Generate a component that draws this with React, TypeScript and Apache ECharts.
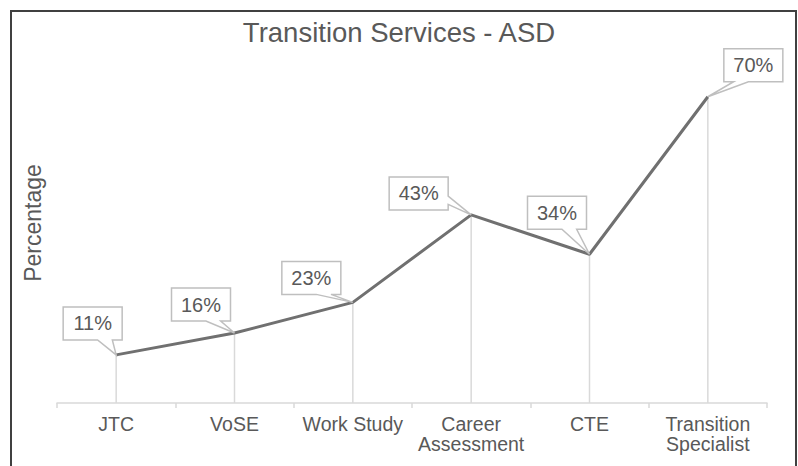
import React, { useEffect, useRef } from "react";
import * as echarts from "echarts";

const categories = ["JTC", "VoSE", "Work Study", "Career\nAssessment", "CTE", "Transition\nSpecialist"];
const values = [11, 16, 23, 43, 34, 70];
const titleText = "Transition Services - ASD";
const yAxisTitle = "Percentage";

// callout box placement (top-left corner relative to the data point), style only
const calloutOffsets: [number, number][] = [
  [-53, -48],
  [-63, -45],
  [-71, -41],
  [-82, -38],
  [-62, -58],
  [16, -48],
];

const FONT = '"Liberation Sans", Arial, sans-serif';
const TEXT = "#595959";
const BOX_W = 59;
const BOX_H = 33;

function calloutPoints(x0: number, y0: number, w: number, h: number, tip: number[]) {
  const cx = x0 + w / 2;
  const cy = y0 + h / 2;
  const dx = tip[0] - cx;
  const dy = tip[1] - cy;
  const dq = (dx * h) / w;
  const dz = Math.abs(dy) - Math.abs(dq);
  const xg1 = dx > 0 ? 7 : 2;
  const xg2 = dx > 0 ? 10 : 5;
  const yg1 = dy > 0 ? 7 : 2;
  const yg2 = dy > 0 ? 10 : 5;
  const x1 = x0 + (w * xg1) / 12;
  const x2 = x0 + (w * xg2) / 12;
  const y1 = y0 + (h * yg1) / 12;
  const y2 = y0 + (h * yg2) / 12;
  const L = x0, R = x0 + w, T = y0, B = y0 + h;
  const t = [tip[0], tip[1]];
  if (dz > 0) {
    if (dy < 0) return [[L, T], [x1, T], t, [x2, T], [R, T], [R, B], [L, B]];
    return [[L, T], [R, T], [R, B], [x2, B], t, [x1, B], [L, B]];
  }
  if (dx < 0) return [[L, T], [R, T], [R, B], [L, B], [L, y2], t, [L, y1]];
  return [[L, T], [R, T], [R, y1], t, [R, y2], [R, B], [L, B]];
}

export default function App() {
  const ref = useRef<HTMLDivElement>(null);

  useEffect(() => {
    if (!ref.current) return;
    const chart = echarts.init(ref.current, undefined, { renderer: "svg" });
    const pairs = values.map((v, i) => [i, v]);

    chart.setOption({
      animation: false,
      backgroundColor: "#ffffff",
      title: {
        text: titleText,
        left: "center",
        top: 13,
        textStyle: { fontFamily: FONT, fontSize: 27.5, fontWeight: "normal", color: TEXT },
      },
      grid: { left: 57, right: 31, top: 53, bottom: 63, containLabel: false },
      xAxis: {
        type: "category",
        data: categories,
        boundaryGap: true,
        axisLine: { show: true, lineStyle: { color: "#d9d9d9", width: 1.5 } },
        axisTick: { show: true, alignWithLabel: false, length: 5, lineStyle: { color: "#d9d9d9", width: 1.5 } },
        axisLabel: {
          margin: 11,
          color: TEXT,
          fontFamily: FONT,
          fontSize: 19.5,
          lineHeight: 20,
          interval: 0,
        },
        splitLine: { show: false },
      },
      yAxis: {
        type: "value",
        min: 0,
        max: 80,
        axisLine: { show: false },
        axisTick: { show: false },
        axisLabel: { show: false },
        splitLine: { show: false },
      },
      graphic: [
        {
          type: "rect",
          shape: { x: 11, y: 11, width: 785, height: 470 },
          style: { fill: "none", stroke: "#404040", lineWidth: 2 },
          z: 100,
        },
        {
          type: "text",
          x: 33,
          y: 223,
          rotation: Math.PI / 2,
          style: {
            text: yAxisTitle,
            font: `23px ${FONT}`,
            fill: TEXT,
            align: "center",
            verticalAlign: "middle",
          },
        },
      ],
      series: [
        {
          type: "custom",
          z: 1,
          data: pairs,
          encode: { x: 0, y: 1 },
          renderItem: (params: any, api: any) => {
            const i = api.value(0);
            const v = api.value(1);
            const p = api.coord([i, v]);
            const b = api.coord([i, 0]);
            return {
              type: "line",
              shape: { x1: p[0], y1: p[1], x2: b[0], y2: b[1] },
              style: { stroke: "#d9d9d9", lineWidth: 1.5 },
            };
          },
        },
        {
          type: "line",
          z: 2,
          data: values,
          symbol: "none",
          lineStyle: { color: "#707070", width: 3 },
          label: { show: false },
        },
        {
          type: "custom",
          z: 3,
          data: pairs,
          encode: { x: 0, y: 1 },
          renderItem: (params: any, api: any) => {
            const i = api.value(0);
            const v = api.value(1);
            const tip = api.coord([i, v]);
            const off = calloutOffsets[params.dataIndex];
            const x0 = tip[0] + off[0];
            const y0 = tip[1] + off[1];
            return {
              type: "group",
              children: [
                {
                  type: "polygon",
                  shape: { points: calloutPoints(x0, y0, BOX_W, BOX_H, tip) },
                  style: { fill: "#ffffff", stroke: "#bfbfbf", lineWidth: 1.5 },
                },
                {
                  type: "text",
                  style: {
                    text: `${v}%`,
                    x: x0 + BOX_W / 2,
                    y: y0 + BOX_H / 2,
                    align: "center",
                    verticalAlign: "middle",
                    fill: TEXT,
                    font: `20px ${FONT}`,
                  },
                },
              ],
            };
          },
        },
      ],
    });

    return () => chart.dispose();
  }, []);

  return (
    <div
      ref={ref}
      style={{ position: "fixed", left: 0, top: 0, width: 798, height: 466 }}
    />
  );
}
